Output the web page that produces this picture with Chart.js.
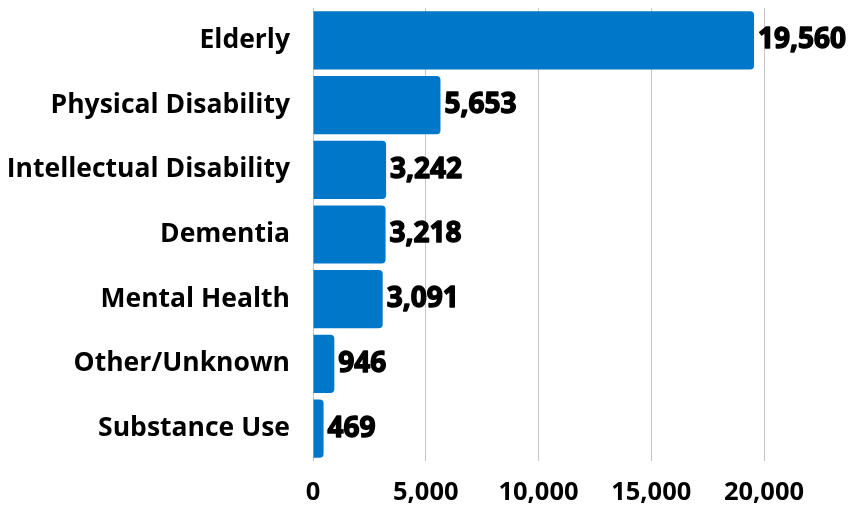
<!DOCTYPE html>
<html>
<head>
<meta charset="utf-8">
<script src="https://cdn.jsdelivr.net/npm/chart.js@4.4.1/dist/chart.umd.min.js"></script>
<style>
  html, body { margin: 0; padding: 0; background: #ffffff; }
  #wrap { width: 849px; height: 506px; position: relative; }
</style>
</head>
<body>
<div id="wrap"><canvas id="chart"></canvas></div>
<script>
const categories = ['Elderly', 'Physical Disability', 'Intellectual Disability', 'Dementia', 'Mental Health', 'Other/Unknown', 'Substance Use'];
const counts = [19560, 5653, 3242, 3218, 3091, 946, 469];
const xTicks = [0, 5000, 10000, 15000, 20000];

// draw the value at the end of each bar (heavy black numbers)
const valueLabels = {
  id: 'valueLabels',
  afterDatasetsDraw(chart) {
    const ctx = chart.ctx;
    const meta = chart.getDatasetMeta(0);
    ctx.save();
    ctx.font = 'bold 28px "Open Sans"';
    ctx.fillStyle = '#000';
    ctx.strokeStyle = '#000';
    ctx.lineWidth = 1.4;
    ctx.lineJoin = 'round';
    ctx.textBaseline = 'middle';
    ctx.textAlign = 'left';
    meta.data.forEach((bar, i) => {
      const txt = counts[i].toLocaleString('en-US');
      ctx.strokeText(txt, bar.x + 4, bar.y);
      ctx.fillText(txt, bar.x + 4, bar.y);
    });
    ctx.restore();
  }
};

new Chart(document.getElementById('chart'), {
  type: 'bar',
  data: {
    labels: categories,
    datasets: [{
      data: counts,
      backgroundColor: '#0077c8',
      borderRadius: { topRight: 4, bottomRight: 4 },
      borderSkipped: 'start',
      barPercentage: 0.9,
      categoryPercentage: 1.0
    }]
  },
  options: {
    indexAxis: 'y',
    responsive: true,
    maintainAspectRatio: false,
    animation: false,
    layout: { padding: { top: 8, right: 85, left: 0, bottom: 0 } },
    plugins: {
      legend: { display: false },
      tooltip: { enabled: false }
    },
    scales: {
      x: {
        min: 0,
        max: 20000,
        afterBuildTicks: axis => { axis.ticks = xTicks.map(v => ({ value: v })); },
        afterFit: s => { s.height = 45; },
        grid: { color: '#c4c4c4', lineWidth: 1, drawTicks: false },
        border: { display: false },
        ticks: {
          color: '#000',
          padding: 16,
          maxRotation: 0,
          font: { family: 'Open Sans', size: 25.5, weight: 'bold' },
          callback: v => v.toLocaleString('en-US')
        }
      },
      y: {
        afterFit: s => { s.width = 313; s.paddingTop = 0; s.paddingBottom = 0; },
        grid: { display: false, drawTicks: false },
        border: { display: false },
        ticks: {
          color: '#000',
          padding: 23,
          font: { family: 'Open Sans', size: 26.5, weight: 'bold' }
        }
      }
    }
  },
  plugins: [valueLabels]
});
</script>
</body>
</html>
